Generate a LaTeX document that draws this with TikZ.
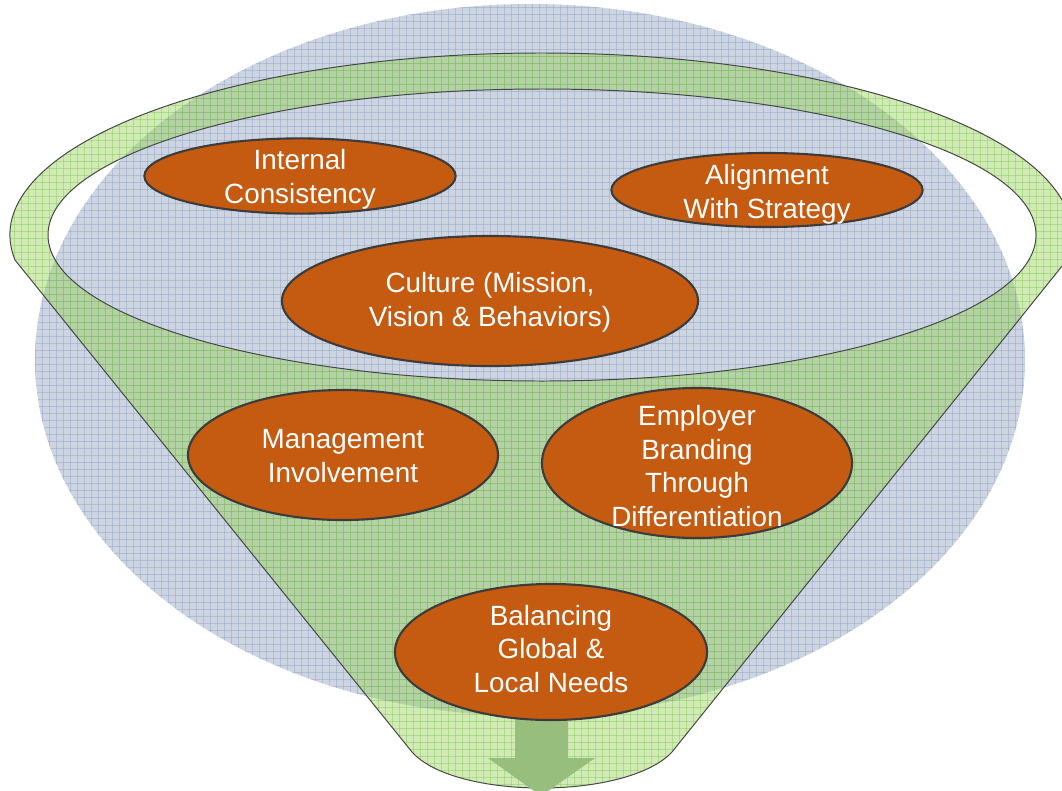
\documentclass[tikz,border=0pt]{standalone}
\usepackage{fontspec}
\setmainfont{Liberation Sans}
\usetikzlibrary{shapes.geometric}

\definecolor{bowlblue}{RGB}{205,213,227}
\definecolor{bowlgrid}{RGB}{150,166,196}
\definecolor{funnelgreen}{RGB}{146,208,80}
\definecolor{funnelgrid}{RGB}{115,190,60}
\definecolor{blobfill}{RGB}{197,90,17}
\definecolor{rimline}{RGB}{70,70,70}
\definecolor{arrowgreen}{RGB}{152,190,125}

\tikzset{
  blob/.style={ellipse, draw={rgb,255:red,60;green,60;blue,60}, line width=1.5pt, fill=blobfill, inner sep=0pt},
  txt/.style={text=white, align=center, font=\fontsize{19.8}{24}\selectfont},
  bowlline/.style={bowlgrid, line width=0.3pt, opacity=0.5},
  funnelline/.style={funnelgrid, line width=0.3pt, opacity=0.35}
}

\begin{document}
\begin{tikzpicture}[x=0.025cm,y=-0.025cm]
    \useasboundingbox (0,0) rectangle (1062,790);
    %%draw the blue bowl behind
    \fill[bowlblue] (530,360) ellipse [x radius=495, y radius=356];
    \begin{scope}
        \clip (530,360) ellipse [x radius=495, y radius=356];
        \foreach \gx in {0,7,...,1060}
            \draw[bowlline] (\gx,0) -- (\gx,790);
        \foreach \gy in {0,7,...,790}
            \draw[bowlline] (0,\gy) -- (1062,\gy);
    \end{scope}

    %%draw the funnel
    \fill[funnelgreen, opacity=0.42, even odd rule] (15,260)
        arc[start angle=172.1, end angle=367.9, x radius=531, y radius=182]
        -- (672,752) .. controls (627,800) and (455,800) .. (412,752) -- cycle
        (542,235) ellipse [x radius=494, y radius=146];
    \begin{scope}[even odd rule]
        \clip (15,260)
            arc[start angle=172.1, end angle=367.9, x radius=531, y radius=182]
            -- (672,752) .. controls (627,800) and (455,800) .. (412,752) -- cycle
            (542,235) ellipse [x radius=494, y radius=146];
        \foreach \gx in {0,7,...,1070}
            \draw[funnelline] (\gx,0) -- (\gx,790);
        \foreach \gy in {0,7,...,790}
            \draw[funnelline] (0,\gy) -- (1070,\gy);
    \end{scope}
    \draw[rimline, line width=0.7pt] (15,260)
        arc[start angle=172.1, end angle=367.9, x radius=531, y radius=182]
        -- (672,752) .. controls (627,800) and (455,800) .. (412,752) -- cycle;
    \draw[rimline, line width=0.7pt] (542,235) ellipse [x radius=494, y radius=146];

    %%the arrow out of the funnel
    \fill[arrowgreen] (515,700) -- (568,700) -- (568,758) -- (595,758)
        -- (541,796) -- (488,758) -- (515,758) -- cycle;

    %%draw the ellipses
    \node[blob, minimum width=7.78cm, minimum height=1.88cm] (ic) at (300,176){};
        \node[txt] (ic-t) at (300,179){Internal\\Consistency};
    \node[blob, minimum width=7.78cm, minimum height=1.85cm] (as) at (767,190){};
        \node[txt] (as-t) at (767,194){Alignment\\With Strategy};
    \node[blob, minimum width=10.4cm, minimum height=3.25cm] (cu) at (490,301){};
        \node[txt] (cu-t) at (490,302){Culture (Mission,\\Vision \& Behaviors)};
    \node[blob, minimum width=7.75cm, minimum height=3.25cm] (mi) at (343,455){};
        \node[txt] (mi-t) at (343,456){Management\\Involvement};
    \node[blob, minimum width=7.75cm, minimum height=3.75cm] (eb) at (697,463){};
        \node[txt] (eb-t) at (697,466){Employer\\Branding\\Through\\Differentiation};
    \node[blob, minimum width=7.8cm, minimum height=3.4cm] (bg) at (551,652){};
        \node[txt] (bg-t) at (551,649){Balancing\\Global \&\\Local Needs};
\end{tikzpicture}
\end{document}
